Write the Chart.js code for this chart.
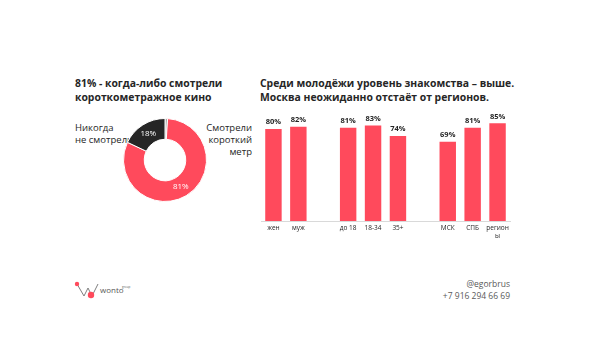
<!DOCTYPE html>
<html>
<head>
<meta charset="utf-8">
<script src="https://cdn.jsdelivr.net/npm/chart.js@4"></script>
<style>
  body { margin: 0; background: #fff; width: 599px; height: 364px; overflow: hidden; font-family: "Open Sans", sans-serif; color: #262626; }
  .t { position: absolute; white-space: nowrap; }
  .title { font-weight: bold; font-size: 10.4px; line-height: 14px; color: #262626; }
  .lbl { font-size: 9.5px; line-height: 12px; color: #262626; }
  .contact { font-size: 8.5px; line-height: 12px; color: #595959; text-align: right; }
  canvas { position: absolute; }
</style>
</head>
<body>
<div class="t title" style="left:75px; top:76px;">81% - когда-либо смотрели<br>короткометражное кино</div>
<div class="t title" style="left:260px; top:76px;">Среди молодёжи уровень знакомства – выше.<br>Москва неожиданно отстаёт от регионов.</div>
<div class="t lbl" style="left:75px; top:122px;">Никогда<br>не смотрели</div>
<div class="t lbl" style="left:200px; top:122px; width:52px; text-align:right;">Смотрели<br>короткий<br>метр</div>

<canvas id="donut" width="86" height="86" style="left:122px; top:117px;"></canvas>
<canvas id="bars" width="270" height="145" style="left:250px; top:100px;"></canvas>

<svg style="position:absolute; left:72px; top:278px;" width="60" height="24">
  <polyline points="5,6 12,18 16,10 20,18 26,6" fill="none" stroke="#7f7f7f" stroke-width="1"/>
  <circle cx="5" cy="6" r="2.2" fill="#ff4a5c"/>
  <circle cx="19" cy="17" r="3.2" fill="#ff4a5c"/>
  <text x="28" y="15" font-size="8" fill="#595959" font-family="Open Sans">wonto</text>
  <text x="50" y="10" font-size="3" fill="#595959" font-family="Open Sans">group</text>
</svg>
<div class="t contact" style="left:420px; top:278px; width:90px;">@egorbrus<br>+7 916 294 66 69</div>

<script>
const donutLabels = ['Другое', 'Смотрели короткий метр', 'Никогда не смотрели'];
const donutValues = [1, 81, 18];
const donutColors = ['#a6a6a6', '#ff4a5c', '#262626'];

const barCategories = ['жен', 'муж', '', 'до 18', '18-34', '35+', '', 'МСК', 'СПБ', ['регион', 'ы']];
const barValues = [80, 82, null, 81, 83, 74, null, 69, 81, 85];

// percent labels inside donut slices
const sliceLabels = {
  id: 'sliceLabels',
  afterDatasetsDraw(chart) {
    const ctx = chart.ctx;
    chart.getDatasetMeta(0).data.forEach((arc, i) => {
      if (donutValues[i] < 5) return;
      const p = arc.tooltipPosition();
      ctx.save();
      ctx.fillStyle = '#ffffff';
      ctx.font = '8px "Open Sans"';
      ctx.textAlign = 'center';
      ctx.textBaseline = 'middle';
      ctx.fillText(donutValues[i] + '%', p.x, p.y);
      ctx.restore();
    });
  }
};

new Chart(document.getElementById('donut'), {
  type: 'doughnut',
  data: {
    labels: donutLabels,
    datasets: [{
      data: donutValues,
      backgroundColor: donutColors,
      borderColor: '#ffffff',
      borderWidth: 1
    }]
  },
  options: {
    responsive: false,
    animation: false,
    cutout: '50%',
    layout: { padding: 1 },
    plugins: { legend: { display: false }, tooltip: { enabled: false } }
  },
  plugins: [sliceLabels]
});

// value labels above bars
const barLabels = {
  id: 'barLabels',
  afterDatasetsDraw(chart) {
    const ctx = chart.ctx;
    chart.getDatasetMeta(0).data.forEach((bar, i) => {
      if (barValues[i] == null) return;
      ctx.save();
      ctx.fillStyle = '#262626';
      ctx.font = 'bold 7.5px "Open Sans"';
      ctx.textAlign = 'center';
      ctx.textBaseline = 'bottom';
      ctx.fillText(barValues[i] + '%', bar.x, bar.y - 3);
      ctx.restore();
    });
  }
};

new Chart(document.getElementById('bars'), {
  type: 'bar',
  data: {
    labels: barCategories,
    datasets: [{
      data: barValues,
      backgroundColor: '#ff4a5c',
      barPercentage: 0.66,
      categoryPercentage: 1
    }]
  },
  options: {
    responsive: false,
    animation: false,
    layout: { padding: { left: 11, right: 10, top: 6, bottom: 0 } },
    scales: {
      x: {
        grid: { display: true, drawOnChartArea: false, drawTicks: false },
        border: { display: true, color: '#d9d9d9', width: 1 },
        ticks: { color: '#262626', font: { size: 6.5, family: 'Open Sans' }, padding: 3, maxRotation: 0, autoSkip: false },
        afterFit(scale) { scale.height = 24; }
      },
      y: { display: false, min: 0, max: 100 }
    },
    plugins: { legend: { display: false }, tooltip: { enabled: false } }
  },
  plugins: [barLabels]
});
</script>
</body>
</html>
